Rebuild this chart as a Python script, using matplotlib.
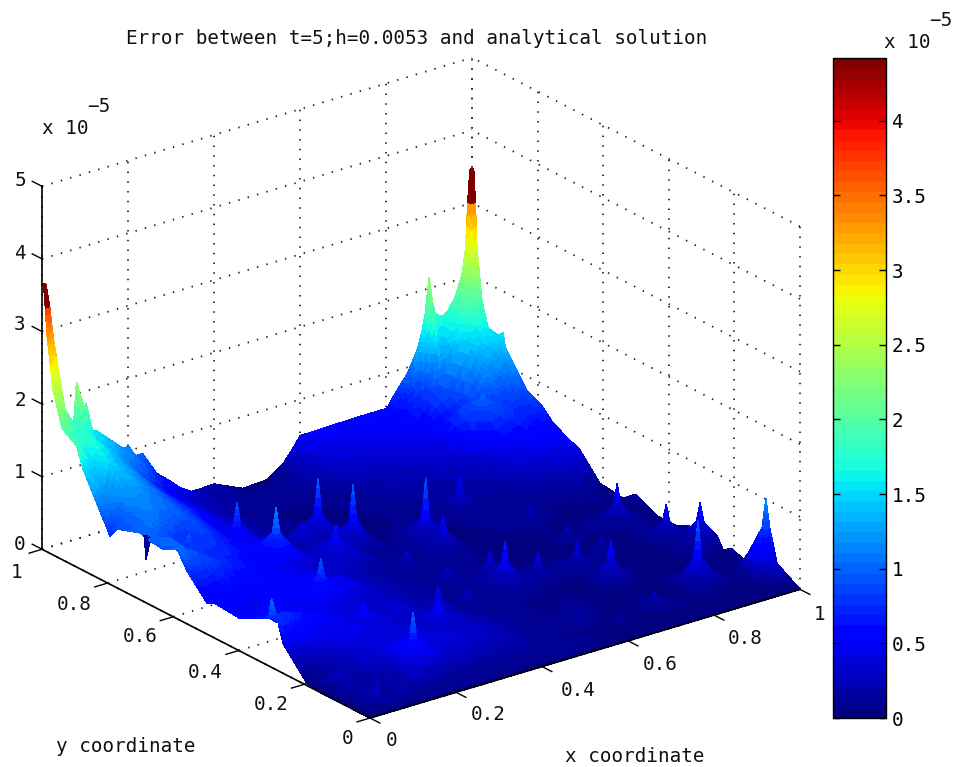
import matplotlib
matplotlib.use("Agg")
import matplotlib.pyplot as plt
import numpy as np
from matplotlib.cm import ScalarMappable
from matplotlib.colors import Normalize
from matplotlib.tri import LinearTriInterpolator, Triangulation, UniformTriRefiner
from mpl_toolkits.mplot3d import proj3d

FONT = "DejaVu Sans Mono"
FS = 13.9
W, H = 959, 767

title = "Error between t=5;h=0.0053 and analytical solution"
xy_ticks = [0, 0.2, 0.4, 0.6, 0.8, 1]
xy_labels = ["0", "0.2", "0.4", "0.6", "0.8", "1"]
z_ticks = [0, 1, 2, 3, 4, 5]
cbar_ticks = [0, 0.5, 1, 1.5, 2, 2.5, 3, 3.5, 4]
cbar_labels = ["0", "0.5", "1", "1.5", "2", "2.5", "3", "3.5", "4"]

# error values (units of 1e-5), rows from y=15/16 down to y=1/16,
# columns x=1/16 .. 15/16
base_z = [
    [1.60, 1.20, .80, .45, .25, .15, .10, .10, .20, .35, .40, .45, .55, .85, 1.35],
    [1.35, 1.05, .72, .45, .22, .10, .07, .07, .12, .22, .28, .35, .45, .65, 1.00],
    [1.10, .95, .68, .42, .22, .10, .05, .05, .08, .15, .20, .26, .33, .50, .75],
    [1.00, .88, .62, .38, .20, .10, .06, .05, .06, .11, .15, .18, .22, .38, .55],
    [.95, .78, .56, .33, .20, .12, .08, .05, .05, .08, .10, .12, .15, .25, .35],
    [.90, .68, .50, .33, .22, .13, .08, .05, .04, .06, .07, .08, .08, .15, .18],
    [.76, .58, .45, .35, .26, .15, .08, .05, .04, .05, .06, .06, .05, .06, .08],
    [.48, .50, .45, .38, .26, .15, .08, .06, .04, .04, .05, .05, .04, .05, .04],
    [.42, .45, .42, .38, .28, .16, .09, .07, .05, .05, .05, .05, .04, .03, .03],
    [.48, .42, .38, .32, .25, .18, .12, .08, .06, .05, .05, .04, .03, .03, .03],
    [.62, .48, .38, .30, .25, .20, .12, .08, .06, .05, .04, .03, .03, .03, .03],
    [.38, .40, .38, .30, .25, .20, .12, .08, .06, .05, .04, .03, .03, .02, .02],
    [.18, .35, .35, .32, .28, .22, .14, .08, .05, .04, .04, .03, .02, .02, .02],
    [.10, .25, .32, .35, .32, .24, .14, .08, .05, .04, .03, .03, .02, .02, .01],
    [.05, .15, .20, .22, .20, .15, .10, .06, .04, .03, .03, .02, .02, .01, .01],
]

# the x=0 edge
x0_y = [0, .15, .192, .265, .284, .30, .31, .35, .396, .473, .497, .558, .588, .631, .671, .678, .683, .688,
        .701, .771, .793, .802, .832, .875, .89, .90, .939, .967, .976, .985, .99, .995]
x0_z = [0, 0, .03, .41, .73, .95, .66, .56, .45, .48, .43, .73, .96, .86, .88, .90, .60, .90,
        .92, .81, .66, .75, 1.01, 1.40, 1.60, 1.76, 1.81, 2.29, 2.64, 3.00, 3.35, 3.65]

# the y=1 edge
y1_x = [.005, .01, .015, .02, .04, .06, .073, .08, .087, .095, .102, .11, .128, .188, .202, .21, .22, .233, .24,
        .244, .298, .314, .337, .367, .40, .467, .523, .56, .584, .60, .74, .802, .821, .849, .872, .884,
        .891, .90, .908, .914, .926, .944, .96, .977, .985, .99, .995]
y1_z = [3.65, 3.35, 3.00, 2.45, 1.93, 1.65, 1.55, 2.15, 1.60, 1.64, 1.83, 1.45, 1.40, 1.06, 1.06, .95, .90, .91, .75,
        .69, .41, .29, .18, .18, .19, .01, .03, .18, .36, .50, .52, .52, .69, .91, 1.19, 1.45,
        1.66, 2.15, 1.79, 1.63, 1.55, 1.61, 1.76, 2.06, 2.40, 3.03, 3.47]

# the x=1 edge
x1_y = [0, .06, .091, .131, .168, .207, .235, .268, .345, .38, .436, .503, .54, .585, .61, .671, .71, .753,
        .787, .832, .863, .899, .905, .921, .951, .97, .985, .99, .995]
x1_z = [0, 0, .38, .24, 0, .08, 0, .15, .08, 0, 0, .14, 0, .03, .04, .36, .44, .54,
        .70, .80, 1.00, 1.24, 1.43, 1.36, 1.39, 1.72, 2.40, 3.03, 3.47]

# a row just inside each raised edge, so its spikes stay narrow
row_y97_x = [.03, .06, .10, .15, .20, .25, .30, .35, .40, .50, .55, .60, .70, .80, .85, .90, .94, .97]
row_y97_z = [1.95, 1.60, 1.40, 1.15, .95, .62, .38, .20, .15, .05, .10, .30, .45, .50, .72, 1.15, 1.50, 1.95]
row_x97_y = [.94, .90, .85, .80, .75, .70, .65, .60, .50, .40, .30, .20, .10, .05]
row_x97_z = [1.50, 1.20, .85, .65, .50, .40, .30, .10, .05, .03, .10, .03, .12, .02]
row_x03_y = [.94, .90, .85, .80, .75, .70, .65, .60, .55, .50, .45, .40, .35, .30, .25, .20, .15, .10]
row_x03_z = [1.60, 1.42, 1.10, .90, .92, .95, .92, .88, .68, .45, .45, .45, .55, .70, .30, .10, .05, .03]

# corners and points right next to them
extra_x = [0, 1, 0, 1, .005, .995, .01, .99, .015, .985, .012, .012, .012, .012]
extra_y = [0, 0, 1, 1, .995, .995, .99, .99, .985, .985, .672, .683, .694, .30]
extra_z = [0, 0, 3.65, 3.47, 3.65, 3.47, 3.35, 3.03, 2.90, 2.30, .90, .90, .90, .60]

# the small spikes: position, tip height, height just below the tip, height at the foot
cusp_x = [.178, .246, .207, .422, .454, .581, .717, .374, .377, .578, .567, .573, .639, .781, .323, .371,
          .451, .206, .288, .03, .042, .264, .489, .471, .918, .942, .975, .858, .981, .738, .725, .791,
          .807, .729, .832, .596, .564, .631, .242, .08, .897]
cusp_y = [.102, .609, .421, .712, .647, .592, .666, .595, .698, .535, .332, .386, .325, .536, .216, .279,
          .296, .292, .295, .13, .033, .431, .403, .504, .45, .332, .272, .125, .079, .233, .319, .434,
          .351, .087, .079, .157, .105, .066, .723, .657, .831]
cusp_top = [.90, 1.05, .85, .90, .90, .90, .50, .60, .40, .50, .65, .40, .40, .30, .55, .50,
            .30, .55, .40, .30, .35, .50, .30, .30, .55, .50, .60, .90, 1.10, .60, .40, .25,
            .25, .25, .20, .20, .20, .15, .85, .85, .95]
cusp_neck = [.55, .70, .60, .40, .40, .35, .25, .42, .30, .28, .34, .22, .20, .15, .42, .30,
             .17, .42, .32, .22, .20, .42, .20, .20, .26, .25, .34, .40, .70, .30, .20, .13,
             .13, .14, .12, .13, .13, .09, .55, .75, .85]
cusp_foot = [.40, .50, .48, .20, .20, .16, .12, .28, .18, .14, .18, .11, .09, .07, .28, .18,
             .09, .35, .28, .15, .12, .36, .10, .11, .10, .10, .15, .15, .35, .11, .09, .06,
             .06, .07, .05, .07, .07, .04, .38, .70, .78]

NECK_R = 0.007
FOOT_R = 0.032
ANGLES = np.arange(6) * np.pi / 3 + 0.3

# put every vertex together
base_z = np.array(base_z)
gx, gy = np.meshgrid(np.arange(1, 16) / 16, np.arange(15, 0, -1) / 16)
sx = np.concatenate([gx.ravel(), row_y97_x, np.full(len(row_x97_y), .97), np.full(len(row_x03_y), .03)])
sy = np.concatenate([gy.ravel(), np.full(len(row_y97_x), .97), row_x97_y, row_x03_y])
sz = np.concatenate([base_z.ravel(), row_y97_z, row_x97_z, row_x03_z])
cx, cy = np.array(cusp_x), np.array(cusp_y)
dist = np.hypot(sx[:, None] - cx, sy[:, None] - cy).min(axis=1)
keep = dist > 0.045

xs = [sx[keep], np.zeros(len(x0_y)), np.array(y1_x), np.ones(len(x1_y)), np.array(extra_x), cx]
ys = [sy[keep], np.array(x0_y), np.ones(len(y1_x)), np.array(x1_y), np.array(extra_y), cy]
zs = [sz[keep], np.array(x0_z), np.array(y1_z), np.array(x1_z), np.array(extra_z), np.array(cusp_top)]
for r, vals in ((NECK_R, cusp_neck), (FOOT_R, cusp_foot)):
    for a in ANGLES:
        xs.append(cx + r * np.cos(a))
        ys.append(cy + r * np.sin(a))
        zs.append(np.array(vals))
xs, ys, zs = np.concatenate(xs), np.concatenate(ys), np.concatenate(zs)
inside = (xs >= 0) & (xs <= 1) & (ys >= 0) & (ys <= 1)
xs, ys, zs = xs[inside], ys[inside], zs[inside]
pts, first = np.unique(np.c_[xs, ys], axis=0, return_index=True)
xs, ys, zs = xs[first], ys[first], zs[first]

# same shape, smaller facets: colours run smoothly like matlab's shading interp
tri = Triangulation(xs, ys)
fine_tri, fine_z = UniformTriRefiner(tri).refine_field(
    zs, triinterpolator=LinearTriInterpolator(tri, zs), subdiv=2)

jet = plt.get_cmap("jet", 64)
SURF_VMAX = 4.0

fig = plt.figure(figsize=(W / 100, H / 100), dpi=100, facecolor="white")
side = 800
ax = fig.add_axes([0, 0, side / W, side / H], projection="3d", proj_type="ortho")
ax.set_box_aspect((540.8, 540.8, 394.6))
ax.view_init(elev=23.1, azim=-127.33)
ax.set_xlim(0, 1)
ax.set_ylim(0, 1)
ax.set_zlim(0, 5)
ax.set_axis_off()
ax.computed_zorder = False


def to_px(p):
    u, v, _ = proj3d.proj_transform(p[0], p[1], p[2], ax.get_proj())
    return ax.transData.transform((u, v))


# scale and move the axes so the floor corners land where they should
ax.apply_aspect()
scale = 430 / (to_px((1, 0, 0))[0] - to_px((0, 0, 0))[0])
side *= scale
ax.set_position([0, 0, side / W, side / H])
ax.apply_aspect()
p0 = to_px((0, 0, 0))
ax.set_position([(370 - p0[0]) / W, (H - 718 - p0[1]) / H, side / W, side / H])

grid_kw = dict(color="#222222", lw=1.3, ls=(0, (0.8, 4.6)), zorder=1)
for t in xy_ticks:
    ax.plot([t, t], [0, 1], [0, 0], **grid_kw)
    ax.plot([0, 1], [t, t], [0, 0], **grid_kw)
    ax.plot([t, t], [1, 1], [0, 5], **grid_kw)
    ax.plot([1, 1], [t, t], [0, 5], **grid_kw)
for t in z_ticks:
    ax.plot([0, 1], [1, 1], [t, t], **grid_kw)
    ax.plot([1, 1], [0, 1], [t, t], **grid_kw)

surf = ax.plot_trisurf(fine_tri, fine_z, cmap=jet, vmin=0, vmax=SURF_VMAX, linewidth=0.3,
                       antialiased=False, shade=False, zorder=3)
surf.set_edgecolor("face")
tri_c = np.asarray(fine_z)[fine_tri.triangles].mean(axis=1)
tx = fine_tri.x[fine_tri.triangles].mean(axis=1)
ty = fine_tri.y[fine_tri.triangles].mean(axis=1)
# the two corner needles end dark red, and one spike hangs down dark
tri_c[((tx < .5) & (tri_c > 3.35)) | ((tx > .5) & (tri_c > 3.05))] = SURF_VMAX
tri_c[np.hypot(tx, ty - .683) < .008] = .1
surf.set_array(tri_c)

axis_kw = dict(color="k", lw=1.2, zorder=5)
ax.plot([0, 0], [1, 1], [0, 5], **axis_kw)
ax.plot([0, 0], [0, 1], [0, 0], **axis_kw)
ax.plot([0, 1], [0, 0], [0, 0], **axis_kw)
tick_kw = dict(color="k", lw=1.0, zorder=5)
for t in xy_ticks:
    ax.plot([t, t], [0, -0.03], [0, 0], **tick_kw)
    ax.plot([0, -0.03], [t, t], [0, 0], **tick_kw)
for t in z_ticks:
    ax.plot([0, 0], [1, 1.03], [t, t], **tick_kw)


def label(x, y, s, **kw):
    fig.text(x / W, 1 - y / H, s, family=FONT, fontsize=FS, ha="center", va="center", color="#111111", **kw)


label(417, 38, title)
for s, (lx, ly) in zip(["0", "1", "2", "3", "4", "5"],
                       [(20, 545), (20, 472), (20, 400), (20, 325), (20, 253), (20, 180)]):
    label(lx, ly, s)
for s, (lx, ly) in zip(xy_labels, [(392, 741), (488, 715), (578, 690), (660, 665), (745, 639), (820, 614)]):
    label(lx, ly, s)
for s, (lx, ly) in zip(xy_labels, [(348, 738), (271, 705), (205, 672), (140, 637), (74, 604), (17, 572)]):
    label(lx, ly, s)
label(126, 747, "y coordinate")
label(635, 756, "x coordinate")
label(65, 128, "x 10")
label(99, 107, "\u22125")
label(907, 43, "x 10")
label(941, 20, "\u22125")

cax = fig.add_axes([833 / W, 1 - 718 / H, 53 / W, 660 / H])
cb = fig.colorbar(ScalarMappable(norm=Normalize(0, 4.42), cmap=jet), cax=cax)
cb.set_ticks(cbar_ticks)
cb.set_ticklabels(cbar_labels, family=FONT, fontsize=FS)
cax.tick_params(left=True, right=True, direction="in", length=5, width=1, pad=4)
cb.outline.set_linewidth(1.0)

fig.savefig("out.png", dpi=100)
